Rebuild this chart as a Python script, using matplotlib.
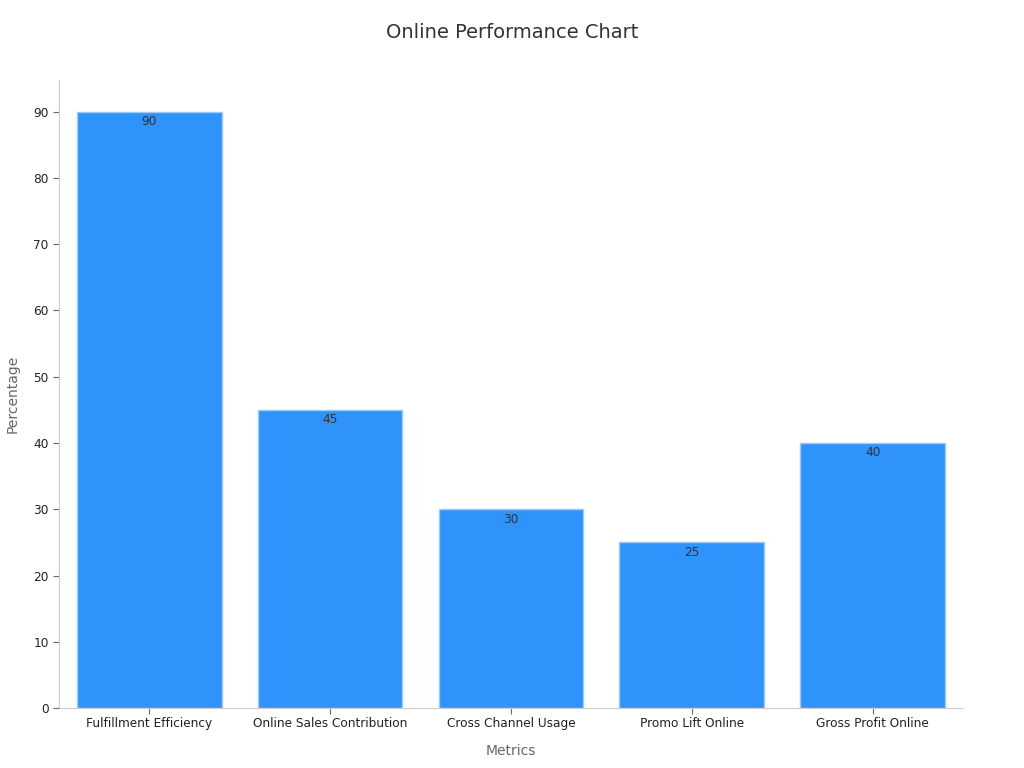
import matplotlib
matplotlib.use("Agg")
import matplotlib.pyplot as plt

categories = ["Fulfillment Efficiency", "Online Sales Contribution", "Cross Channel Usage",
              "Promo Lift Online", "Gross Profit Online"]
values = [90, 45, 30, 25, 40]
yticks = [0, 10, 20, 30, 40, 50, 60, 70, 80, 90]

plt.rcParams['font.family'] = ['DejaVu Sans']
fig = plt.figure(figsize=(10.24, 7.68), dpi=100)
ax = fig.add_axes([0.0576, 0.078, 0.8828, 0.818])

x = list(range(len(categories)))
bars = ax.bar(x, values, width=0.8, color="#2E93FA", edgecolor="#9CCBFB", linewidth=1)
for xi, v in zip(x, values):
    ax.annotate(str(v), (xi, v), xytext=(0, -2.5), textcoords="offset points",
                ha="center", va="top", fontsize=8.7, color="#333333")

ax.set_xlim(-0.5, len(categories) - 0.5)
ax.set_ylim(0, 94.8)
ax.set_xticks(x)
ax.set_xticklabels(categories, fontsize=8.7, color="#222222")
ax.set_yticks(yticks)
ax.tick_params(axis="y", labelsize=8.7, labelcolor="#222222", color="#666666", length=4)
ax.tick_params(axis="x", color="#666666", length=4, pad=2.5)
for s in ["top", "right"]:
    ax.spines[s].set_visible(False)
for s in ["left", "bottom"]:
    ax.spines[s].set_color("#cccccc")

ax.set_xlabel("Metrics", fontsize=10, color="#666666", labelpad=10)
ax.set_ylabel("Percentage", fontsize=10, color="#666666", labelpad=10)
fig.suptitle("Online Performance Chart", fontsize=14, color="#333333", y=0.97)

fig.savefig("out.png", dpi=100)
